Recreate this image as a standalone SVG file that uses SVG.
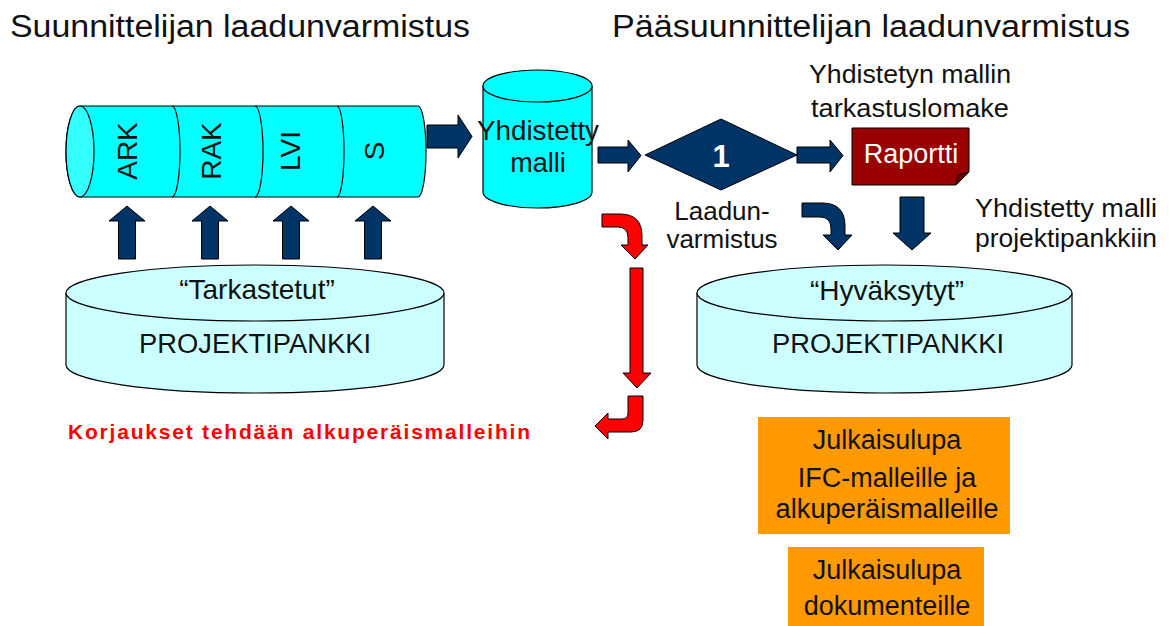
<svg xmlns="http://www.w3.org/2000/svg" width="1169" height="626" viewBox="0 0 1169 626">
<style>
text{font-family:"Liberation Sans",Arial,sans-serif;fill:#111;}
.t{font-size:31px;}
.m{font-size:27px;text-anchor:middle;}
.s{font-size:26px;text-anchor:middle;}
.w{fill:#fff;}
.navy{fill:#003366;stroke:#000;stroke-width:1;}
.red{fill:#ff0000;stroke:#000;stroke-width:1;}
.cyan{fill:#00ffff;stroke:#000;stroke-width:1.2;}
.lcyan{fill:#ccffff;stroke:#000;stroke-width:1.2;}
.orange{fill:#ff9900;}
</style>
<rect width="1169" height="626" fill="#fff"/>
<text class="t" x="10" y="37" textLength="460" lengthAdjust="spacingAndGlyphs">Suunnittelijan laadunvarmistus</text>
<text class="t" x="612" y="37" textLength="518" lengthAdjust="spacingAndGlyphs">Pääsuunnittelijan laadunvarmistus</text>

<g id="models">
<path class="cyan" d="M80,106 L418,106 A8,45.5 0 0 1 418,197 L80,197 A14,45.5 0 0 1 80,106 Z"/>
<ellipse cx="80" cy="151.5" rx="14" ry="45.5" fill="#33ffff" stroke="#000" stroke-width="1.2"/>
<path d="M172,106 A8,45.5 0 0 1 172,197 M255,106 A8,45.5 0 0 1 255,197 M337,106 A7,45.5 0 0 1 337,197" fill="none" stroke="#000" stroke-width="1.2"/>
<text class="m" transform="translate(137,151) rotate(-90)" style="font-size:28px">ARK</text>
<text class="m" transform="translate(221,151) rotate(-90)" style="font-size:28px">RAK</text>
<text class="m" transform="translate(300,151) rotate(-90)" style="font-size:28px">LVI</text>
<text class="m" transform="translate(384,151) rotate(-90)" style="font-size:28px">S</text>
</g>

<g id="yhdistetty">
<path class="cyan" d="M483,86 L483,192 A54.5,16 0 0 0 592,192 L592,86"/>
<ellipse class="cyan" cx="537.5" cy="86" rx="54.5" ry="16"/>
<text class="m" x="538" y="140" textLength="122" lengthAdjust="spacingAndGlyphs">Yhdistetty</text>
<text class="m" x="538" y="172">malli</text>
</g>

<g id="decision">
<polygon fill="#003366" stroke="#000" stroke-width="1" points="645,155 721,119 797,155 721,190"/>
<text class="m w" x="721" y="167" style="font-weight:bold;font-size:31px">1</text>
<text class="s" x="722" y="220">Laadun-</text>
<text class="s" x="722" y="248">varmistus</text>
</g>

<g id="raportti">
<text class="s" x="910" y="83" textLength="202" lengthAdjust="spacingAndGlyphs">Yhdistetyn mallin</text>
<text class="s" x="910" y="117" textLength="198" lengthAdjust="spacingAndGlyphs">tarkastuslomake</text>
<path d="M852,128 L969,128 L969,172 L956,185 L852,185 Z" fill="#990000" stroke="#000" stroke-width="1"/>
<path d="M969,172 L958,175 L956,185 Z" fill="#660000" stroke="#000" stroke-width="1"/>
<text class="s w" x="911" y="163" style="font-size:27px">Raportti</text>
<text class="s" x="1066" y="217" textLength="182" lengthAdjust="spacingAndGlyphs">Yhdistetty malli</text>
<text class="s" x="1066" y="247" textLength="182" lengthAdjust="spacingAndGlyphs">projektipankkiin</text>
</g>

<g id="tarkastetut">
<path class="lcyan" d="M66,293 L66,365 A189,28 0 0 0 444,365 L444,293"/>
<ellipse class="lcyan" cx="255" cy="293" rx="189" ry="28"/>
<text class="m" x="257" y="299" style="font-size:28px">“Tarkastetut”</text>
<text class="m" x="255" y="353" textLength="232" lengthAdjust="spacingAndGlyphs">PROJEKTIPANKKI</text>
</g>

<g id="hyvaksytyt">
<path class="lcyan" d="M697,293 L697,365 A187.5,28 0 0 0 1072,365 L1072,293"/>
<ellipse class="lcyan" cx="884.5" cy="293" rx="187.5" ry="28"/>
<text class="m" x="887" y="300" style="font-size:28px">“Hyväksytyt”</text>
<text class="m" x="888" y="353" textLength="232" lengthAdjust="spacingAndGlyphs">PROJEKTIPANKKI</text>
</g>

<g id="julkaisu1">
<rect class="orange" x="758" y="417" width="252" height="117"/>
<text class="m" x="887" y="449">Julkaisulupa</text>
<text class="m" x="887" y="487">IFC-malleille ja</text>
<text class="m" x="887" y="518" textLength="223" lengthAdjust="spacingAndGlyphs">alkuperäismalleille</text>
</g>
<g id="julkaisu2">
<rect class="orange" x="788" y="547" width="196" height="79"/>
<text class="m" x="887" y="579">Julkaisulupa</text>
<text class="m" x="887" y="615">dokumenteille</text>
</g>

<text x="68" y="439" textLength="462" lengthAdjust="spacing" style="fill:#ff0000;font-weight:bold;font-size:21px">Korjaukset tehdään alkuperäismalleihin</text>

<g id="connectors">
<path class="navy" d="M427,125 L458,125 L458,115 L472,136.5 L458,158 L458,148 L427,148 Z"/>
<path class="navy" d="M118.5,259 L118.5,221 L109,221 L127,206 L145,221 L135.5,221 L135.5,259 Z"/>
<path class="navy" d="M201.5,259 L201.5,221 L192,221 L210,206 L228,221 L218.5,221 L218.5,259 Z"/>
<path class="navy" d="M282.5,259 L282.5,221 L273,221 L291,206 L309,221 L299.5,221 L299.5,259 Z"/>
<path class="navy" d="M364.5,259 L364.5,221 L355,221 L373,206 L391,221 L381.5,221 L381.5,259 Z"/>
<path class="navy" d="M598,147 L628,147 L628,140 L641,155.5 L628,172 L628,163 L598,163 Z"/>
<path class="navy" d="M797,147 L830,147 L830,140 L843,155.5 L830,172 L830,163 L797,163 Z"/>
<path class="navy" d="M900,197 L924,197 L924,233 L931,233 L912,250 L893,233 L900,233 Z"/>
<path class="navy" d="M802,203 L822,203 Q845,203 845,226 L845,235 L852,235 L838,250 L823,235 L831,235 L831,229 Q831,217 820,217 L802,217 Z"/>
<path class="red" d="M602,214 L620,214 Q642,214 642,236 L642,245 L648,245 L635,259 L621,245 L628,245 L628,238 Q628,227 618,227 L602,227 Z"/>
<path class="red" d="M630,268 L643,268 L643,373 L651,373 L637,388 L623,373 L630,373 Z"/>
<path class="red" d="M628,396 L643,396 L643,420 Q643,432 631,432 L608,432 L608,439 L595,426 L608,413 L608,419 L622,419 Q628,419 628,413 Z"/>
</g>
</svg>
